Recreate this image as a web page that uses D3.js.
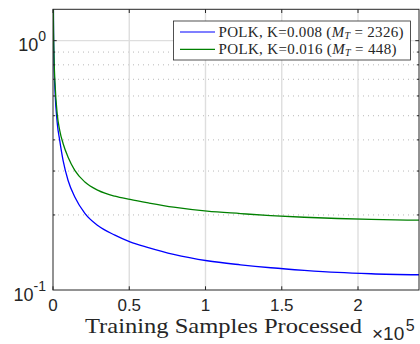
<!DOCTYPE html>
<meta charset="utf-8">
<style>
body { margin: 0; background: #fff; }
.axis-text { font-family: "Liberation Sans", Arial, sans-serif; fill: #262626; }
.serif { font-family: "Liberation Serif", "Times New Roman", serif; fill: #262626; }
</style>
<body>
<svg width="420" height="344"></svg>
<script src="https://cdn.jsdelivr.net/npm/d3@7"></script>
<script>
// training samples processed
var samples = [0, 300, 700, 1300, 2800, 4400, 6600, 9900, 14300, 20900, 29600, 40600,
               50500, 62500, 79100, 101100, 123000, 142800, 164700, 186600, 208600, 240000];
// K = 0.008 (M_T = 2326)
var errK008 = [3.0, 1.2, 0.80, 0.63, 0.466, 0.398, 0.331, 0.275, 0.236, 0.203, 0.181, 0.166,
               0.156, 0.148, 0.139, 0.131, 0.1262, 0.1228, 0.1199, 0.1176, 0.1162, 0.1151];
// K = 0.016 (M_T = 448)
var errK016 = [3.0, 1.2, 0.85, 0.68, 0.505, 0.437, 0.387, 0.341, 0.302, 0.271, 0.251, 0.2377,
               0.2307, 0.2235, 0.2148, 0.207, 0.2025, 0.1988, 0.1958, 0.1935, 0.1919, 0.1905];
var xTicks = [0, 50000, 100000, 150000, 200000];
var xTickLabels = ["0", "0.5", "1", "1.5", "2"];
var yMinor = [0.2, 0.3, 0.4, 0.5, 0.6, 0.7, 0.8, 0.9];

var svg = d3.select("svg");
var mLeft = 53, mRight = 419, mTop = 9.3, mBottom = 290;

var x = d3.scaleLinear().domain([0, 240000]).range([mLeft, mRight]);
var y = d3.scaleLog().domain([0.1, 1.336]).range([mBottom, mTop]);

svg.append("clipPath").attr("id", "plot")
  .append("rect").attr("x", mLeft).attr("y", mTop)
  .attr("width", mRight - mLeft).attr("height", mBottom - mTop);

// grid
var grid = svg.append("g");
grid.selectAll("line.minor").data(yMinor).enter().append("line")
    .attr("x1", mLeft).attr("x2", mRight)
    .attr("y1", function(d) { return y(d); }).attr("y2", function(d) { return y(d); })
    .attr("stroke", "#b8b8b8").attr("stroke-width", 1)
    .attr("stroke-dasharray", "1,4");
grid.append("line")
    .attr("x1", mLeft).attr("x2", mRight).attr("y1", y(1)).attr("y2", y(1))
    .attr("stroke", "#dedede").attr("stroke-width", 1.4);
grid.selectAll("line.vx").data(xTicks.slice(1)).enter().append("line")
    .attr("x1", function(d) { return x(d); }).attr("x2", function(d) { return x(d); })
    .attr("y1", mTop).attr("y2", mBottom)
    .attr("stroke", "#dedede").attr("stroke-width", 1.4);

// curves
var line = d3.line()
    .x(function(d) { return x(d[0]); })
    .y(function(d) { return y(d[1]); })
    .curve(d3.curveMonotoneX);

var series = [
  { vals: errK008, color: "#0000ff" },
  { vals: errK016, color: "#008000" }
];
svg.append("g").attr("clip-path", "url(#plot)")
  .selectAll("path").data(series).enter().append("path")
    .attr("d", function(s) { return line(samples.map(function(v, i) { return [v, s.vals[i]]; })); })
    .attr("fill", "none")
    .attr("stroke", function(s) { return s.color; })
    .attr("stroke-width", 1.3);

// box and ticks
var ax = svg.append("g").attr("stroke", "#262626").attr("stroke-width", 1);
ax.append("rect").attr("x", mLeft).attr("y", mTop)
    .attr("width", mRight - mLeft).attr("height", mBottom - mTop).attr("fill", "none");
var tl = 3.7;
xTicks.forEach(function(t) {
  ax.append("line").attr("x1", x(t)).attr("x2", x(t)).attr("y1", mBottom).attr("y2", mBottom - tl);
  ax.append("line").attr("x1", x(t)).attr("x2", x(t)).attr("y1", mTop).attr("y2", mTop + tl);
});
[1].concat(yMinor).forEach(function(t) {
  var len = t === 1 ? tl : 2.2;
  ax.append("line").attr("x1", mLeft).attr("x2", mLeft + len).attr("y1", y(t)).attr("y2", y(t));
  ax.append("line").attr("x1", mRight).attr("x2", mRight - len).attr("y1", y(t)).attr("y2", y(t));
});

// x tick labels
svg.selectAll("text.xt").data(xTicks).enter().append("text")
    .attr("class", "axis-text")
    .attr("x", function(d) { return x(d); }).attr("y", 311)
    .attr("text-anchor", "middle").attr("font-size", 17)
    .text(function(d, i) { return xTickLabels[i]; });

// y tick labels
[[1, "0"], [0.1, "-1"]].forEach(function(p) {
  var t = svg.append("text").attr("class", "axis-text")
      .attr("x", 46).attr("y", y(p[0]) + 10.5)
      .attr("text-anchor", "end").attr("font-size", 18);
  t.append("tspan").text("10");
  t.append("tspan").attr("font-size", 14).attr("dy", -10).text(p[1]);
});

// x label
svg.append("text").attr("class", "serif")
    .attr("x", 85).attr("y", 332.5).attr("font-size", 21)
    .attr("textLength", 277).attr("lengthAdjust", "spacingAndGlyphs")
    .text("Training Samples Processed");

var ex = svg.append("text").attr("class", "axis-text")
    .attr("x", 372).attr("y", 340).attr("font-size", 19);
ex.append("tspan").text("\u00d710");
ex.append("tspan").attr("font-size", 16).attr("dx", 1.5).attr("dy", -9).text("5");

// legend
var lg = svg.append("g");
lg.append("rect").attr("x", 173.5).attr("y", 21).attr("width", 237).attr("height", 39)
    .attr("fill", "#fff").attr("stroke", "#262626").attr("stroke-width", 0.8);
var legendRows = [
  { k: "0.008", m: "2326", color: "#0000ff", len: 185 },
  { k: "0.016", m: "448", color: "#008000", len: 178 }
];
legendRows.forEach(function(r, i) {
  var cy = 32 + i * 17.3;
  lg.append("line").attr("x1", 180).attr("x2", 215).attr("y1", cy).attr("y2", cy)
      .attr("stroke", r.color).attr("stroke-width", 1.2);
  var t = lg.append("text").attr("class", "serif")
      .attr("x", 218.5).attr("y", cy + 4.5).attr("font-size", 15)
      .attr("textLength", r.len);
  t.append("tspan").text("POLK, K=" + r.k + " (");
  t.append("tspan").attr("font-style", "italic").text("M");
  t.append("tspan").attr("font-style", "italic").attr("font-size", 10).attr("dy", 2.5).text("T");
  t.append("tspan").attr("dy", -2.5).text(" = " + r.m + ")");
});
</script>
</body>
